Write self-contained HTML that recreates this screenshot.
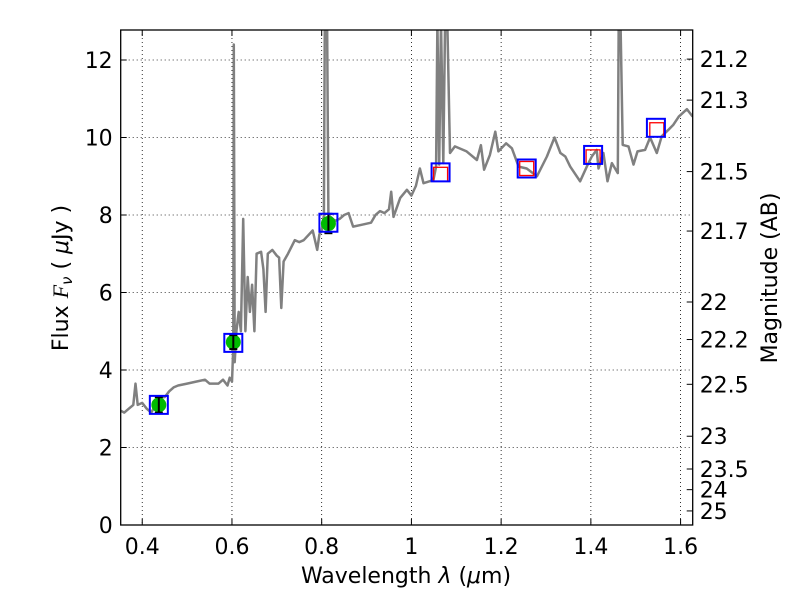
<!DOCTYPE html>
<html><head><meta charset="utf-8"><style>
body{margin:0;background:#fff}
svg text{font-family:"DejaVu Sans","Liberation Sans",sans-serif;fill:#000}
</style></head><body>
<svg id="c" width="800" height="600" viewBox="0 0 800 600"></svg>
<script>
const specLam=[0.352,0.36,0.37,0.38,0.385,0.39,0.40,0.41,0.42,0.43,0.44,0.45,0.46,0.47,0.48,0.50,0.52,0.54,0.55,0.57,0.58,0.59,0.595,0.60,0.603,0.604,0.606,0.61,0.615,0.62,0.625,0.63,0.635,0.64,0.645,0.65,0.655,0.665,0.67,0.675,0.68,0.69,0.70,0.705,0.71,0.715,0.725,0.74,0.75,0.76,0.78,0.79,0.795,0.80,0.805,0.807,0.812,0.815,0.83,0.84,0.85,0.86,0.87,0.89,0.91,0.92,0.93,0.94,0.95,0.955,0.96,0.975,0.99,1.00,1.01,1.019,1.027,1.049,1.055,1.058,1.062,1.066,1.071,1.075,1.08,1.086,1.097,1.123,1.146,1.155,1.162,1.175,1.187,1.194,1.211,1.224,1.239,1.257,1.28,1.302,1.319,1.332,1.343,1.354,1.376,1.391,1.402,1.413,1.417,1.428,1.437,1.447,1.460,1.462,1.466,1.471,1.484,1.495,1.504,1.521,1.532,1.547,1.558,1.573,1.584,1.596,1.614,1.627];
const specFlux=[2.95,2.9,3.0,3.1,3.65,3.1,3.15,3.0,2.9,3.1,3.3,3.3,3.45,3.55,3.6,3.65,3.7,3.75,3.65,3.65,3.75,3.6,3.8,3.7,4.6,12.4,4.2,5.0,5.5,5.0,7.9,5.0,6.4,5.5,6.2,5.0,7.0,7.05,6.6,5.5,7.0,7.1,6.95,6.9,5.6,6.8,7.0,7.35,7.3,7.35,7.6,7.1,7.5,7.6,8.0,13,13,8.0,7.85,7.9,8.0,8.05,7.7,7.75,7.8,8.0,8.1,8.05,8.15,8.6,7.95,8.44,8.65,8.5,8.75,9.2,8.82,8.9,9.25,13,9.3,13,9.34,13,13,9.6,9.77,9.64,9.42,9.8,9.17,9.55,10.15,9.64,9.85,9.72,9.25,9.2,9.0,9.51,10.0,9.6,9.51,9.25,8.87,9.25,9.51,9.68,9.2,9.6,8.87,9.34,9.08,13,13,9.81,9.77,9.3,9.64,9.68,10.0,9.6,10.03,10.2,10.33,10.54,10.73,10.54];
const bandLam=[0.437,0.603,0.815,1.065,1.257,1.405,1.545];
const bandFlux=[3.1,4.7,7.8,9.1,9.2,9.55,10.25];
const modelLam=[1.065,1.257,1.405,1.547];
const modelFlux=[9.05,9.2,9.5,10.2];
const obsLam=[0.437,0.603,0.815];
const obsFlux=[3.1,4.72,7.78];
const obsErr=[0.2,0.18,0.25];
const xTicks=[0.4,0.6,0.8,1.0,1.2,1.4,1.6];
const xTickLabels=["0.4","0.6","0.8","1","1.2","1.4","1.6"];
const yTicks=[0,2,4,6,8,10,12];
const magTicks=[21.2,21.3,21.5,21.7,22,22.2,22.5,23,23.5,24,25];

const L=120.7,R=692.7,T=30,B=525,xmin=0.352,xmax=1.627,ymin=0,ymax=12.774;
const X=v=>L+(v-xmin)/(xmax-xmin)*(R-L);
const Y=v=>B-(v-ymin)/(ymax-ymin)*(B-T);
const svg=document.getElementById('c');
const NS='http://www.w3.org/2000/svg';
function mk(tag,attrs,parent){const e=document.createElementNS(NS,tag);for(const k in attrs)e.setAttribute(k,attrs[k]);(parent||svg).appendChild(e);return e;}
const defs=mk('defs',{});const cp=mk('clipPath',{id:'clip'},defs);mk('rect',{x:L,y:T,width:R-L,height:B-T},cp);

const grid=mk('g',{});


xTicks.forEach((t,i)=>{
  mk('line',{x1:X(t),x2:X(t),y1:T,y2:B,stroke:'#000','stroke-width':0.8,'stroke-dasharray':'1,3'},grid);
  mk('line',{x1:X(t),x2:X(t),y1:B,y2:B-6,stroke:'#000'},grid);
  mk('line',{x1:X(t),x2:X(t),y1:T,y2:T+6,stroke:'#000'},grid);
  const tx=mk('text',{x:X(t),y:B+29,'font-size':22,'text-anchor':'middle'});
  tx.textContent=xTickLabels[i];
  
  
});
yTicks.forEach(t=>{
  mk('line',{x1:L,x2:R,y1:Y(t),y2:Y(t),stroke:'#000','stroke-width':0.8,'stroke-dasharray':'1,3'},grid);
  mk('line',{x1:L,x2:L+6,y1:Y(t),y2:Y(t),stroke:'#000'},grid);
  const tx=mk('text',{x:L-8,y:Y(t)+8,'font-size':22,'text-anchor':'end'});
  tx.textContent=String(t);
  
  
});
magTicks.forEach(m=>{
  const f=Math.pow(10,(23.9-m)/2.5);const y=Y(f);
  mk('line',{x1:R,x2:R-6,y1:y,y2:y,stroke:'#000'});
  const tx=mk('text',{x:R+7,y:y+8,'font-size':22});
  tx.textContent=String(m);
  
  
});

const g=mk('g',{'clip-path':'url(#clip)'});
const pts=specLam.map((l,i)=>X(l).toFixed(1)+','+Y(specFlux[i]).toFixed(1)).join(' ');
const sp=mk('polyline',{points:pts,fill:'none',stroke:'#808080','stroke-width':2.5,'stroke-linejoin':'round'},g);



obsLam.forEach((l,i)=>{
  const c=mk('circle',{cx:X(l),cy:Y(obsFlux[i]),r:7.5,fill:'#00bb00'},g);
  
  
  const x=X(l),y1=Y(obsFlux[i]-obsErr[i]),y2=Y(obsFlux[i]+obsErr[i]);
  mk('line',{x1:x,x2:x,y1:y1,y2:y2,stroke:'#000','stroke-width':2},g);
  mk('line',{x1:x-4,x2:x+4,y1:y1,y2:y1,stroke:'#000','stroke-width':2},g);
  mk('line',{x1:x-4,x2:x+4,y1:y2,y2:y2,stroke:'#000','stroke-width':2},g);
});
modelLam.forEach((l,i)=>{
  const r=mk('rect',{x:X(l)-7,y:Y(modelFlux[i])-7,width:14,height:14,fill:'none',stroke:'#ff0000','stroke-width':1.3},g);
  
  
});
bandLam.forEach((l,i)=>{
  const r=mk('rect',{x:X(l)-9,y:Y(bandFlux[i])-9,width:18,height:18,fill:'none',stroke:'#0000ff','stroke-width':2},g);
  
  
});

const fr=mk('rect',{x:L,y:T,width:R-L,height:B-T,fill:'none',stroke:'#000','stroke-width':1.3});



const xl=mk('text',{x:406,y:583,'font-size':22,'text-anchor':'middle'});
xl.innerHTML='Wavelength  <tspan font-style="italic">λ</tspan> (<tspan font-style="italic">μ</tspan>m)';


const yl=mk('text',{x:0,y:0,'font-size':22,'text-anchor':'middle',transform:'translate(68,278) rotate(-90)'});
yl.innerHTML='Flux  <tspan font-style="italic" font-family="Liberation Serif">F</tspan><tspan font-style="italic" font-size="15" dy="4">ν</tspan><tspan dy="-4">  (  </tspan><tspan font-style="italic">μ</tspan>Jy )';


const ml=mk('text',{x:0,y:0,'font-size':22,'text-anchor':'middle',transform:'translate(777,278) rotate(-90)'});
ml.textContent='Magnitude (AB)';


</script>
</body></html>
